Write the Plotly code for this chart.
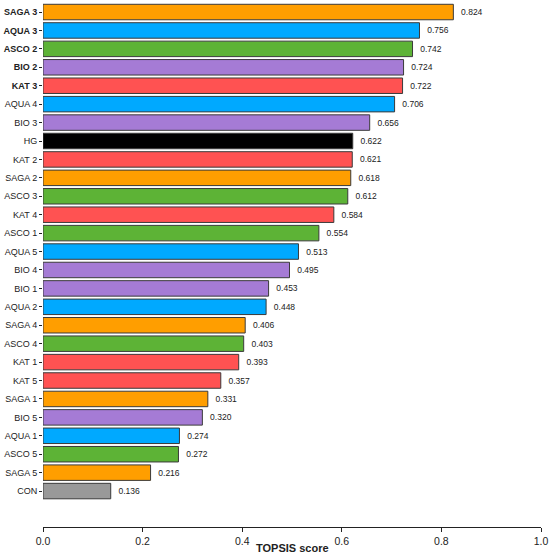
import plotly.graph_objects as go

# treatments, top to bottom as in the figure
labels = ["SAGA 3", "AQUA 3", "ASCO 2", "BIO 2", "KAT 3", "AQUA 4", "BIO 3", "HG",
          "KAT 2", "SAGA 2", "ASCO 3", "KAT 4", "ASCO 1", "AQUA 5", "BIO 4", "BIO 1",
          "AQUA 2", "SAGA 4", "ASCO 4", "KAT 1", "KAT 5", "SAGA 1", "BIO 5", "AQUA 1",
          "ASCO 5", "SAGA 5", "CON"]
scores = [0.824, 0.756, 0.742, 0.724, 0.722, 0.706, 0.656, 0.622,
          0.621, 0.618, 0.612, 0.584, 0.554, 0.513, 0.495, 0.453,
          0.448, 0.406, 0.403, 0.393, 0.357, 0.331, 0.320, 0.274,
          0.272, 0.216, 0.136]
bold_labels = ["SAGA 3", "AQUA 3", "ASCO 2", "BIO 2", "KAT 3"]

group_colors = {
    "SAGA": "#FF9E00",
    "AQUA": "#00A9FF",
    "ASCO": "#5DB336",
    "BIO": "#A57BD5",
    "KAT": "#FF5252",
    "HG": "#000000",
    "CON": "#999999",
}

# bottom to top for plotly
labels_r = labels[::-1]
scores_r = scores[::-1]
colors = [group_colors[l.split(" ")[0]] for l in labels_r]
ticktext = [f"<b>{l}</b>" if l in bold_labels else l for l in labels_r]
ypos = list(range(len(labels_r)))

fig = go.Figure(go.Bar(
    x=scores_r,
    y=ypos,
    orientation="h",
    marker=dict(color=colors, line=dict(color="#3a3a3a", width=1)),
    width=0.84,
    text=[f"  {v:.3f}" for v in scores_r],
    textposition="outside",
    textfont=dict(size=8.5, color="#222222", family="Arial, Liberation Sans"),
    cliponaxis=False,
    hoverinfo="skip",
))

fig.update_layout(
    width=550, height=556,
    margin=dict(l=43, r=9, t=3, b=29),
    plot_bgcolor="white", paper_bgcolor="white",
    font=dict(family="Arial, Liberation Sans", color="#222222"),
    showlegend=False,
    annotations=[dict(text="<b>TOPSIS score</b>", x=0.5, y=-0.0,
                      xref="paper", yref="paper", yshift=-21, yanchor="middle",
                      showarrow=False, font=dict(size=11, color="#222222"))],
)
fig.update_xaxes(
    range=[0, 1], tickvals=[0, 0.2, 0.4, 0.6, 0.8, 1.0],
    ticktext=["0.0", "0.2", "0.4", "0.6", "0.8", "1.0"],
    showline=True, linecolor="#222222", linewidth=1.2,
    ticks="outside", ticklen=4, tickcolor="#222222",
    tickfont=dict(size=10.5), showgrid=False, zeroline=False,
    automargin=False,
)
fig.update_yaxes(
    range=[-1.95, 26.49], tickvals=ypos, ticktext=ticktext,
    ticks="outside", ticklen=3, tickcolor="#222222",
    tickfont=dict(size=9), showgrid=False, zeroline=False, showline=False,
    automargin=False,
)

# drop the default page margin so the figure sits at the window corner
fig.write_html("out.html", config={"displayModeBar": False},
               post_script="document.body.style.margin='0';")
